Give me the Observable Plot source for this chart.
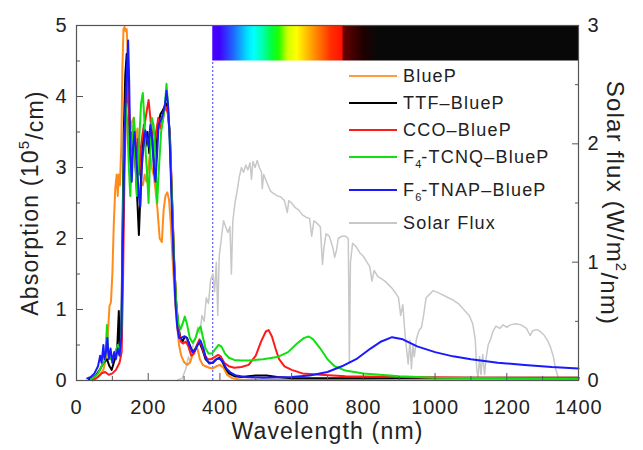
<!DOCTYPE html>
<html><head><meta charset="utf-8">
<script src="https://cdn.jsdelivr.net/npm/d3@7"></script>
<script src="https://cdn.jsdelivr.net/npm/@observablehq/plot@0.6"></script>
<style>
body{margin:0;background:#fff;}
#wrap{position:relative;width:643px;height:450px;font-family:"Liberation Sans",Arial,sans-serif;color:#222;}
#wrap svg text{letter-spacing:0.8px;}
#wrap svg text.ttl{letter-spacing:1.2px;}
.row{position:absolute;left:349px;height:20px;width:280px;}
.sw{position:absolute;left:0;top:9px;width:48px;height:2px;}
.lab{position:absolute;left:54px;top:0;font-size:18px;white-space:nowrap;line-height:20px;letter-spacing:1.2px;}
.lab sub{font-size:11px;vertical-align:-5px;letter-spacing:0;}
</style>
</head><body>
<div id="wrap"></div>
<script>
// ---- data ----
const seriesNames = ["BlueP","TTF–BlueP","CCO–BlueP","F4-TCNQ–BlueP","F6-TNAP–BlueP","Solar Flux"];
const seriesColors = ["#ff8c1a","#000000","#ff1a1a","#10e010","#1a1aff","#c8c8c8"];

const blueP = [[45,0],[55,0.03],[65,0.08],[75,0.15],[82,0.3],[88,0.7],[92,1.05],[96,1.1],[100,1.5],[104,2.2],[108,2.7],[112,2.9],[115,2.6],[118,2.9],[121,2.75],[125,3.3],[128,4.4],[131,4.95],[134,4.98],[137,4.92],[140,4.95],[143,4.6],[146,3.9],[150,3.5],[155,3.65],[160,3.7],[165,3.4],[170,3.55],[175,3.1],[180,2.8],[185,2.75],[190,2.9],[195,2.8],[200,3.0],[205,3.2],[210,3.0],[215,2.9],[220,2.7],[226,2.4],[232,2.0],[238,1.95],[243,2.4],[248,2.6],[253,2.65],[258,2.55],[263,2.2],[268,1.7],[274,1.2],[280,0.8],[286,0.5],[292,0.35],[300,0.26],[308,0.22],[316,0.25],[324,0.36],[332,0.45],[338,0.44],[344,0.3],[352,0.22],[360,0.2],[370,0.18],[380,0.17],[390,0.2],[400,0.22],[410,0.18],[420,0.08],[435,0.03],[460,0.01],[600,0.01],[1000,0.01],[1400,0.01]];

const ttf = [[35,0.02],[45,0.04],[55,0.08],[65,0.15],[75,0.25],[85,0.3],[92,0.2],[98,0.15],[104,0.25],[110,0.35],[114,0.5],[118,0.98],[121,0.4],[125,0.6],[128,2.0],[132,3.5],[136,4.3],[140,4.6],[144,4.4],[148,3.4],[152,3.0],[156,3.3],[160,3.6],[165,3.0],[170,2.5],[174,2.05],[178,2.6],[183,3.2],[188,3.6],[193,3.3],[198,3.5],[203,3.2],[208,3.6],[213,3.3],[218,2.9],[223,3.3],[228,3.6],[234,3.75],[240,3.8],[245,3.85],[250,3.9],[255,3.8],[260,3.5],[266,2.6],[272,1.7],[278,1.1],[284,0.75],[290,0.6],[296,0.55],[302,0.62],[308,0.6],[316,0.5],[324,0.4],[332,0.45],[342,0.55],[350,0.45],[360,0.3],[370,0.25],[380,0.25],[390,0.3],[398,0.32],[405,0.28],[415,0.18],[425,0.1],[440,0.06],[460,0.05],[500,0.07],[530,0.07],[560,0.05],[600,0.03],[800,0.03],[1000,0.04],[1200,0.04],[1400,0.04]];

const cco = [[40,0.01],[50,0.02],[60,0.05],[70,0.1],[80,0.12],[90,0.08],[100,0.1],[110,0.15],[120,0.25],[126,0.4],[130,1.5],[134,3.0],[138,3.8],[142,4.2],[146,3.8],[150,3.3],[155,3.5],[160,3.3],[165,3.0],[170,3.4],[175,2.9],[180,3.3],[185,3.5],[190,3.6],[196,3.8],[201,3.95],[206,3.7],[211,3.4],[216,3.2],[222,3.5],[228,3.7],[234,3.55],[240,3.65],[245,3.8],[250,3.85],[255,3.75],[261,3.4],[267,2.5],[273,1.6],[279,1.0],[285,0.7],[291,0.55],[297,0.52],[305,0.55],[312,0.48],[320,0.35],[328,0.38],[336,0.5],[343,0.58],[350,0.48],[358,0.35],[366,0.3],[375,0.3],[385,0.33],[395,0.36],[402,0.34],[412,0.25],[425,0.2],[440,0.18],[460,0.19],[480,0.22],[500,0.35],[515,0.55],[528,0.69],[536,0.71],[545,0.62],[555,0.45],[565,0.3],[580,0.2],[600,0.15],[630,0.1],[680,0.08],[750,0.06],[900,0.05],[1100,0.04],[1400,0.04]];

const f4tcnq = [[40,0.02],[50,0.05],[60,0.1],[70,0.2],[80,0.3],[85,0.78],[88,0.4],[95,0.3],[105,0.35],[115,0.5],[122,0.4],[126,0.8],[130,2.5],[134,3.5],[138,3.9],[142,3.6],[146,3.0],[150,2.6],[155,3.2],[160,3.7],[164,3.1],[168,2.6],[172,3.0],[176,3.5],[180,3.9],[185,4.05],[189,3.7],[193,3.2],[197,2.9],[201,2.5],[205,3.1],[210,3.7],[215,3.6],[220,3.1],[225,2.5],[230,3.0],[236,3.5],[242,3.7],[247,3.9],[251,4.18],[255,3.9],[260,3.4],[266,2.6],[272,1.7],[278,1.1],[284,0.8],[290,0.72],[296,0.8],[302,0.9],[308,0.8],[316,0.6],[324,0.53],[332,0.6],[340,0.72],[346,0.76],[352,0.62],[360,0.45],[368,0.38],[378,0.38],[388,0.45],[396,0.5],[404,0.48],[414,0.38],[425,0.32],[440,0.29],[460,0.28],[480,0.28],[520,0.3],[560,0.33],[590,0.4],[615,0.52],[635,0.6],[648,0.62],[660,0.58],[680,0.45],[700,0.3],[720,0.2],[750,0.14],[800,0.1],[900,0.06],[1000,0.04],[1200,0.03],[1400,0.02]];

const f6tnap = [[30,0.03],[40,0.05],[50,0.1],[60,0.2],[66,0.35],[70,0.25],[75,0.5],[78,0.3],[82,0.4],[86,0.6],[90,0.3],[95,0.45],[100,0.25],[105,0.4],[110,0.3],[115,0.45],[120,0.35],[125,0.6],[128,1.5],[132,2.8],[136,3.8],[140,4.3],[144,4.79],[147,4.2],[150,3.2],[154,2.8],[158,3.3],[162,3.5],[166,3.2],[170,2.9],[174,2.6],[178,2.45],[182,3.0],[187,3.3],[192,3.52],[197,3.4],[201,3.3],[206,3.6],[211,3.4],[216,3.0],[220,2.8],[225,3.2],[229,3.6],[234,3.65],[238,3.7],[243,3.8],[247,3.9],[251,4.08],[255,3.9],[259,3.5],[263,2.9],[267,2.25],[272,1.6],[276,1.08],[281,0.75],[286,0.6],[292,0.6],[300,0.62],[308,0.6],[316,0.48],[324,0.4],[330,0.42],[338,0.5],[346,0.56],[354,0.45],[362,0.3],[370,0.24],[380,0.25],[390,0.3],[398,0.31],[406,0.28],[418,0.17],[430,0.11],[445,0.07],[470,0.05],[520,0.04],[600,0.05],[650,0.07],[700,0.12],[740,0.2],[780,0.3],[820,0.45],[850,0.55],[880,0.61],[910,0.58],[950,0.48],[1000,0.4],[1050,0.34],[1100,0.3],[1175,0.25],[1250,0.22],[1325,0.19],[1400,0.17]];

// solar flux in W/m^2/nm (right axis)
const solar = [[280,0],[295,0.02],[305,0.1],[312,0.2],[318,0.15],[325,0.3],[332,0.35],[338,0.45],[344,0.4],[350,0.55],[356,0.5],[362,0.7],[368,0.65],[374,0.85],[380,0.9],[385,0.75],[390,1.0],[394,0.55],[398,1.05],[404,1.2],[410,1.35],[416,1.3],[422,1.25],[428,1.3],[432,0.9],[436,1.35],[442,1.5],[448,1.6],[454,1.72],[460,1.8],[466,1.76],[472,1.82],[478,1.78],[484,1.84],[488,1.7],[492,1.85],[498,1.8],[504,1.86],[510,1.8],[516,1.76],[518,1.62],[522,1.74],[530,1.68],[541,1.6],[550,1.58],[560,1.56],[570,1.55],[580,1.52],[588,1.42],[592,1.52],[600,1.5],[610,1.46],[620,1.44],[630,1.4],[640,1.38],[650,1.37],[656,1.22],[662,1.35],[670,1.33],[680,1.3],[686,0.98],[690,1.12],[696,1.24],[705,1.22],[715,1.12],[720,1.04],[725,1.1],[730,1.2],[740,1.22],[750,1.22],[758,1.2],[761,0.15],[764,1.0],[770,1.16],[780,1.13],[790,1.08],[800,1.05],[810,1.0],[818,0.96],[824,0.84],[830,0.93],[840,0.88],[850,0.86],[860,0.84],[870,0.81],[880,0.78],[890,0.74],[898,0.7],[904,0.55],[910,0.64],[916,0.4],[920,0.28],[925,0.14],[930,0.34],[934,0.1],[938,0.3],[942,0.2],[948,0.35],[955,0.42],[962,0.45],[968,0.55],[975,0.7],[985,0.73],[995,0.76],[1010,0.74],[1030,0.71],[1050,0.68],[1065,0.65],[1080,0.6],[1095,0.55],[1105,0.48],[1112,0.35],[1116,0.1],[1120,0.02],[1124,0.2],[1128,0.05],[1133,0.22],[1138,0.05],[1142,0.18],[1148,0.3],[1155,0.35],[1162,0.42],[1170,0.46],[1180,0.44],[1190,0.47],[1200,0.45],[1210,0.47],[1225,0.48],[1240,0.47],[1255,0.44],[1265,0.38],[1272,0.42],[1285,0.43],[1295,0.41],[1305,0.38],[1315,0.33],[1322,0.28],[1330,0.2],[1336,0.1],[1342,0.04],[1346,0.0]];

// visible spectrum bar colour stops
const specNm = [380,400,440,480,495,520,545,565,590,615,650,680,710,742,745,800,840,1400];
const specColors = ["#4a00ff","#4000ff","#1e6bff","#00e6ff","#00ffff","#00ffb0","#00ff40","#20ff00","#d0ff00","#ffff00","#ffb000","#ff7000","#ff3000","#ff1000","#6a0000","#200000","#080808","#080808"];

const xTicks = [0,200,400,600,800,1000,1200,1400];
const xMinor = [100,300,500,700,900,1100,1300];
const yTicks = [0,1,2,3,4,5];
const yMinor = [0.5,1.5,2.5,3.5,4.5];
const rTicks = [0,1,2,3];
const rMinor = [0.5,1.5,2.5];

// ---- chart ----
const rMax = 3, lMax = 5;
const toL = v => v * lMax / rMax;
const absSeries = [blueP, ttf, cco, f4tcnq, f6tnap];
const axisCol = "#555";
const empty = () => "";
const fmt = d => String(d);

const plot = Plot.plot({
  width: 643, height: 450,
  marginLeft: 76, marginRight: 65, marginTop: 25, marginBottom: 70,
  x: {domain: [0, 1400]},
  y: {domain: [0, lMax]},
  style: {fontFamily: '"Liberation Sans", Arial, sans-serif', fontSize: "20px", color: "#222", background: "#fff"},
  marks: [
    Plot.rect([0], {x1: () => specNm[0], x2: () => specNm[specNm.length-1], y1: () => 4.5, y2: () => 5, fill: "url(#specGrad)"}),
    Plot.ruleX([specNm[0]], {y1: () => 0, y2: () => 4.5, stroke: "#3a3aff", strokeDasharray: "2,2", strokeWidth: 1}),
    Plot.line(solar, {x: d => d[0], y: d => toL(d[1]), stroke: seriesColors[5], strokeWidth: 1.5}),
    ...absSeries.map((s, i) => Plot.line(s, {x: d => d[0], y: d => d[1], stroke: seriesColors[i], strokeWidth: 2})),
    Plot.frame({stroke: axisCol, strokeWidth: 1.2}),
    // bottom axis
    Plot.axisX(xTicks, {tickSize: 0, tickPadding: 19, tickFormat: fmt, label: null}),
    Plot.axisX(xTicks, {tickSize: 7, dy: -7, tickFormat: empty, label: null, stroke: axisCol}),
    Plot.axisX(xMinor, {tickSize: 4, dy: -4, tickFormat: empty, label: null, stroke: axisCol}),
    // left axis
    Plot.axisY(yTicks, {tickSize: 0, tickPadding: 9, tickFormat: fmt, label: null}),
    Plot.axisY(yTicks, {tickSize: 7, dx: 7, tickFormat: empty, label: null, stroke: axisCol}),
    Plot.axisY(yMinor, {tickSize: 4, dx: 4, tickFormat: empty, label: null, stroke: axisCol}),
    // right axis
    Plot.axisY(rTicks.map(toL), {anchor: "right", tickSize: 0, tickPadding: 9, tickFormat: d => String(Math.round(d * rMax / lMax)), label: null}),
    Plot.axisY(rTicks.map(toL), {anchor: "right", tickSize: 7, dx: -7, tickFormat: empty, label: null, stroke: axisCol}),
    Plot.axisY(rMinor.map(toL), {anchor: "right", tickSize: 4, dx: -4, tickFormat: empty, label: null, stroke: axisCol}),
    // titles
    Plot.text(["Absorption (10^5/cm)"], {frameAnchor: "left", textAnchor: "middle", rotate: -90, dx: -46, fontSize: 23, text: d => d}),
    Plot.text(["Solar flux (W/m^2/nm)"], {frameAnchor: "right", textAnchor: "middle", rotate: 90, dx: 36, fontSize: 24, text: d => d}),
    Plot.text(["Wavelength (nm)"], {frameAnchor: "bottom", textAnchor: "middle", dy: 58, fontSize: 23, text: d => d})
  ]
});

// gradient for spectrum bar
const xs = plot.scale("x");
const svg = d3.select(plot);
const defs = svg.insert("defs", ":first-child");
const g = defs.append("linearGradient").attr("id", "specGrad").attr("gradientUnits", "userSpaceOnUse")
  .attr("x1", xs.apply(specNm[0])).attr("x2", xs.apply(specNm[specNm.length-1])).attr("y1", 0).attr("y2", 0);
const span = specNm[specNm.length-1] - specNm[0];
specNm.forEach((n, i) => g.append("stop").attr("offset", (n - specNm[0]) / span).attr("stop-color", specColors[i]));

// superscripts in titles, and title class
svg.selectAll("text").each(function() {
  const t = this.textContent;
  if (/Absorption|Solar flux|Wavelength/.test(t)) this.classList.add("ttl");
  const m = t.match(/^(.*)\^(\d)(.*)$/);
  if (m) {
    const el = d3.select(this); el.text("");
    el.append("tspan").text(m[1]);
    el.append("tspan").attr("font-size", 15).attr("dy", "-0.6em").text(m[2]);
    el.append("tspan").attr("dy", "0.6em").text(m[3]);
  }
});

const wrap = document.getElementById("wrap");
wrap.appendChild(plot);

// legend
const rowsY = [76, 103, 130, 157, 190, 223];
const labelsHtml = ["BlueP","TTF–BlueP","CCO–BlueP","F<sub>4</sub>-TCNQ–BlueP","F<sub>6</sub>-TNAP–BlueP","Solar Flux"];
seriesNames.forEach((n, i) => {
  const row = document.createElement("div");
  row.className = "row";
  row.style.top = (rowsY[i] - 10) + "px";
  row.innerHTML = `<div class="sw" style="background:${seriesColors[i]};opacity:${i===0?0.85:1}"></div><div class="lab">${labelsHtml[i]}</div>`;
  wrap.appendChild(row);
});
</script>
</body></html>
